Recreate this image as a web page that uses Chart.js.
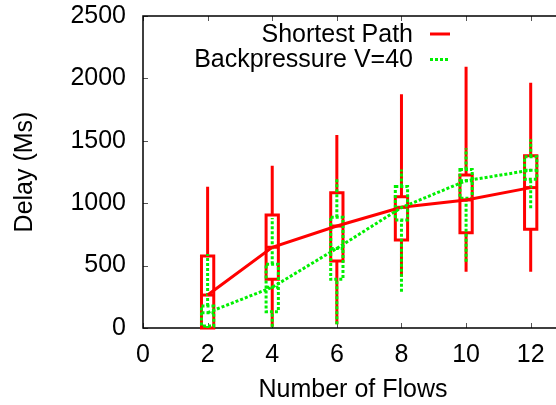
<!DOCTYPE html>
<html>
<head>
<meta charset="utf-8">
<title>Delay vs flows</title>
<script src="https://cdn.jsdelivr.net/npm/chart.js@4.4.0/dist/chart.umd.min.js"></script>
<style>
  html, body { margin: 0; padding: 0; background: #fff; overflow: hidden; }
  #wrap { width: 556px; height: 405px; overflow: hidden; }
</style>
</head>
<body>
<div id="wrap"><canvas id="myChart" width="565" height="405"></canvas></div>
<script>
const flows = [2, 4, 6, 8, 10, 12];
const xTicks = [0, 2, 4, 6, 8, 10, 12];
const yTicks = [0, 500, 1000, 1500, 2000, 2500];

// Shortest Path: whisker min, box bottom, median, box top, whisker max
const spMin = [0, 10, 30, 410, 451, 451];
const spQ1 = [0, 390, 537, 705, 764, 791];
const spMed = [264, 647, 817, 967, 1026, 1125];
const spQ3 = [577, 905, 1084, 1052, 1226, 1381];
const spMax = [1132, 1300, 1546, 1872, 2094, 1966];

// Backpressure V=40
const bpMin = [0, 10, 30, 291, 531, 959];
const bpQ1 = [16, 131, 390, 865, 1039, 1191];
const bpMed = [123, 326, 638, 965, 1180, 1265];
const bpQ3 = [176, 510, 887, 1133, 1271, 1373];
const bpMax = [593, 881, 1191, 1271, 1440, 1512];

const RED = '#ff0000';
const GREEN = '#00f000';
const DOTS = [3, 2];
const FONT = "'Liberation Sans', Arial, sans-serif";
const boxHalf = 0.19;

function drawCandles(chart, lo, q1, med, q3, hi, color, dash) {
  const ctx = chart.ctx;
  const x = chart.scales.x, y = chart.scales.y;
  ctx.save();
  ctx.strokeStyle = color;
  ctx.lineWidth = 3;
  ctx.lineCap = 'butt';
  ctx.setLineDash(dash);
  flows.forEach((f, i) => {
    const cx = x.getPixelForValue(f);
    const l = x.getPixelForValue(f - boxHalf);
    const r = x.getPixelForValue(f + boxHalf);
    const yLo = y.getPixelForValue(lo[i]);
    const yQ1 = y.getPixelForValue(q1[i]);
    const yMed = y.getPixelForValue(med[i]);
    const yQ3 = y.getPixelForValue(q3[i]);
    const yHi = y.getPixelForValue(hi[i]);
    ctx.beginPath();
    ctx.moveTo(cx, yLo); ctx.lineTo(cx, yQ1);
    ctx.moveTo(cx, yQ3); ctx.lineTo(cx, yHi);
    ctx.stroke();
    ctx.beginPath();
    ctx.rect(l, yQ3, r - l, yQ1 - yQ3);
    ctx.stroke();
    ctx.beginPath();
    ctx.moveTo(l, yMed); ctx.lineTo(r, yMed);
    ctx.stroke();
  });
  ctx.restore();
}

// gnuplot-like frame with inward tick marks
const framePlugin = {
  id: 'frame',
  beforeDatasetsDraw(chart) {
    const {ctx, chartArea: a, scales: {x, y}} = chart;
    ctx.save();
    ctx.strokeStyle = '#555';
    ctx.lineWidth = 1;
    ctx.beginPath();
    xTicks.forEach(v => {
      const px = Math.round(x.getPixelForValue(v)) + 0.5;
      ctx.moveTo(px, a.bottom); ctx.lineTo(px, a.bottom - 5);
      ctx.moveTo(px, a.top); ctx.lineTo(px, a.top + 5);
    });
    yTicks.forEach(v => {
      const py = Math.round(y.getPixelForValue(v)) + 0.5;
      ctx.moveTo(a.left, py); ctx.lineTo(a.left + 5, py);
    });
    ctx.stroke();
    ctx.strokeStyle = '#000';
    ctx.lineWidth = 1.5;
    ctx.beginPath();
    ctx.moveTo(a.right, a.top);
    ctx.lineTo(a.left, a.top);
    ctx.lineTo(a.left, a.bottom);
    ctx.lineTo(a.right, a.bottom);
    ctx.stroke();
    ctx.restore();

    drawCandles(chart, spMin, spQ1, spMed, spQ3, spMax, RED, []);
    drawCandles(chart, bpMin, bpQ1, bpMed, bpQ3, bpMax, GREEN, DOTS);
  },
  afterDraw(chart) {
    const ctx = chart.ctx;
    ctx.save();
    ctx.font = '25px ' + FONT;
    ctx.fillStyle = '#000';
    ctx.textAlign = 'right';
    ctx.textBaseline = 'alphabetic';
    ctx.fillText('Shortest Path', 413, 42);
    ctx.fillText('Backpressure V=40', 413, 67);
    ctx.lineWidth = 3;
    ctx.strokeStyle = RED;
    ctx.beginPath(); ctx.moveTo(430, 34); ctx.lineTo(450, 34); ctx.stroke();
    ctx.strokeStyle = GREEN;
    ctx.setLineDash(DOTS);
    ctx.beginPath(); ctx.moveTo(430, 59.5); ctx.lineTo(450, 59.5); ctx.stroke();
    ctx.restore();
  }
};

const ctx = document.getElementById('myChart').getContext('2d');
const myChart = new Chart(ctx, {
  type: 'line',
  data: {
    datasets: [{
      label: 'Shortest Path',
      data: flows.map((f, i) => ({x: f, y: spMed[i]})),
      borderColor: RED,
      borderWidth: 3,
      pointRadius: 0,
      tension: 0,
      order: 1
    }, {
      label: 'Backpressure V=40',
      data: flows.map((f, i) => ({x: f, y: bpMed[i]})),
      borderColor: GREEN,
      borderWidth: 3,
      borderDash: DOTS,
      borderCapStyle: 'butt',
      pointRadius: 0,
      tension: 0,
      order: 0
    }]
  },
  options: {
    responsive: false,
    animation: false,
    layout: { padding: { left: 0, top: 16, right: 2, bottom: 0 } },
    plugins: { legend: { display: false }, tooltip: { enabled: false } },
    scales: {
      x: {
        type: 'linear',
        min: 0,
        max: 13,
        afterBuildTicks: s => { s.ticks = xTicks.map(v => ({value: v})); },
        afterFit: s => { s.height = 77; s.paddingLeft = 0; s.paddingRight = 0; },
        grid: { display: false, drawTicks: false },
        border: { display: false },
        ticks: { color: '#000', padding: 12, maxRotation: 0, callback: v => String(v), font: { family: FONT, size: 25 } },
        title: { display: true, text: 'Number of Flows', color: '#000', padding: { top: 0, bottom: 0 }, font: { family: FONT, size: 25 } }
      },
      y: {
        min: 0,
        max: 2500,
        afterBuildTicks: s => { s.ticks = yTicks.map(v => ({value: v})); },
        afterFit: s => { s.width = 143; s.paddingTop = 0; s.paddingBottom = 0; },
        grid: { display: false, drawTicks: false },
        border: { display: false },
        ticks: { color: '#000', padding: 17, callback: v => String(v), font: { family: FONT, size: 25 } },
        title: { display: true, text: 'Delay (Ms)', color: '#000', padding: { top: 10, bottom: 0 }, font: { family: FONT, size: 25 } }
      }
    }
  },
  plugins: [framePlugin]
});
</script>
</body>
</html>
